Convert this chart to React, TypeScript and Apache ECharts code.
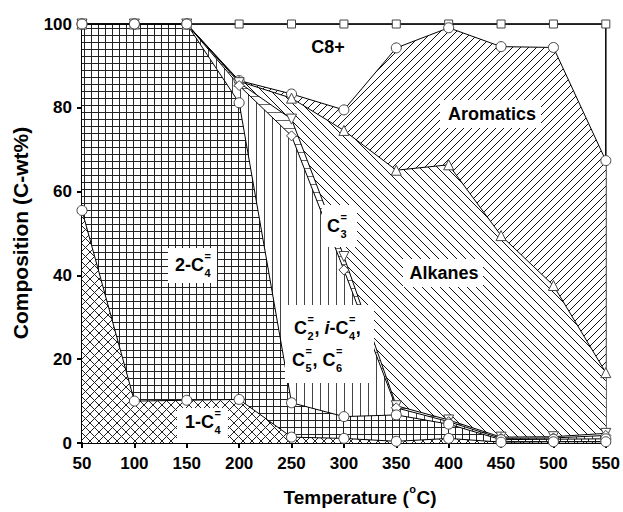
import React, { useEffect, useRef } from 'react';
import * as echarts from 'echarts';

// ---- data (cumulative boundaries, C-wt%) ----
const temperatures = [50, 100, 150, 200, 250, 300, 350, 400, 450, 500, 550];
const totalTop = [100, 100, 100, 100, 100, 100, 100, 100, 100, 100, 100];
const aromaticsTop = [100, 100, 100, 86.5, 83.3, 79.5, 94.3, 99.1, 94.6, 94.4, 67.4];
const alkanesTop = [100, 100, 100, 86.3, 82.3, 74.6, 65.1, 66.4, 49.5, 37.6, 16.8];
const c3Top = [100, 100, 100, 86.0, 77.3, 44.5, 8.9, 5.5, 1.4, 1.5, 2.3];
const lightOlefinsTop = [100, 100, 100, 85.3, 73.3, 41.3, 8.4, 5.1, 1.1, 1.2, 1.8];
const butene2Top = [100, 100, 100, 81.2, 9.6, 6.3, 6.7, 4.5, 0.8, 0.9, 1.0];
const butene1Top = [55.5, 10.0, 10.2, 10.4, 1.4, 1.1, 0.4, 1.1, 0.2, 0.3, 0.3];
const xTicks = { min: 50, max: 550, interval: 50 };
const yTicks = { min: 0, max: 100, interval: 20 };

const FONT = '"Liberation Sans", Arial, Helvetica, sans-serif';

function tile(size: number, color: string, draw: (ctx: CanvasRenderingContext2D, s: number) => void) {
  const c = document.createElement('canvas');
  c.width = size;
  c.height = size;
  const ctx = c.getContext('2d')!;
  ctx.fillStyle = '#fff';
  ctx.fillRect(0, 0, size, size);
  ctx.strokeStyle = color;
  ctx.lineWidth = 1;
  ctx.beginPath();
  draw(ctx, size);
  ctx.stroke();
  return { image: c, repeat: 'repeat', imageWidth: size, imageHeight: size };
}

function makePatterns() {
  const slash = tile(8, '#111', (ctx, s) => {
    for (const k of [-s, 0, s]) { ctx.moveTo(k, s); ctx.lineTo(k + s, 0); }
  });
  const backslash = tile(9, '#111', (ctx, s) => {
    for (const k of [-s, 0, s]) { ctx.moveTo(k, 0); ctx.lineTo(k + s, s); }
  });
  const horiz = tile(8, '#666', (ctx, s) => { ctx.moveTo(0, 0.5); ctx.lineTo(s, 0.5); });
  const vert = tile(8, '#444', (ctx, s) => { ctx.moveTo(0.5, 0); ctx.lineTo(0.5, s); });
  const grid = tile(7, '#222', (ctx, s) => {
    ctx.moveTo(0.5, 0); ctx.lineTo(0.5, s); ctx.moveTo(0, 0.5); ctx.lineTo(s, 0.5);
  });
  const cross = tile(9, '#222', (ctx, s) => {
    for (const k of [-s, 0, s]) { ctx.moveTo(k, 0); ctx.lineTo(k + s, s); ctx.moveTo(k, s); ctx.lineTo(k + s, 0); }
  });
  return { slash, backslash, horiz, vert, grid, cross };
}

let mctx: CanvasRenderingContext2D | null = null;
function tw(text: string, size: number, italic = false) {
  if (!mctx) mctx = document.createElement('canvas').getContext('2d');
  mctx!.font = `${italic ? 'italic ' : ''}bold ${size}px ${FONT}`;
  return mctx!.measureText(text).width;
}

type Tok = { t?: string; italic?: boolean; sub?: string; sup?: string };

function txt(text: string, x: number, y: number, size: number, italic = false, align = 'left', rotation = 0) {
  return {
    type: 'text', x, y, rotation, z: 101,
    style: {
      text, fill: '#000',
      font: `${italic ? 'italic ' : ''}bold ${size}px ${FONT}`,
      textAlign: align, textVerticalAlign: 'middle', align, verticalAlign: 'middle',
    },
  };
}

function formula(tokens: Tok[], x: number, y: number, size = 18, small = 11, center = false, subDy = 8, supDy = -9) {
  const widths = tokens.map((tk) =>
    tk.t !== undefined ? tw(tk.t, size, tk.italic) : Math.max(tk.sub ? tw(tk.sub, small) : 0, tk.sup ? tw(tk.sup, small) : 0) + 1
  );
  const total = widths.reduce((a, b) => a + b, 0);
  let cx = center ? x - total / 2 : x;
  const els: any[] = [];
  tokens.forEach((tk, i) => {
    if (tk.t !== undefined) {
      els.push(txt(tk.t, cx, y, size, tk.italic));
    } else {
      if (tk.sub) els.push(txt(tk.sub, cx + 0.5, y + subDy, small));
      if (tk.sup) els.push(txt(tk.sup, cx + 0.5, y + supDy, small));
    }
    cx += widths[i];
  });
  return els;
}

function box(x: number, y: number, w: number, h: number) {
  return { type: 'rect', z: 100, shape: { x, y, width: w, height: h }, style: { fill: '#fff' } };
}

export default function App() {
  const ref = useRef<HTMLDivElement>(null);
  useEffect(() => {
    if (!ref.current) return;
    const chart = echarts.init(ref.current, undefined, { renderer: 'svg' });
    const P = makePatterns();
    const pts = (arr: number[]) => temperatures.map((t, i) => [t, arr[i]]);

    const layers = [
      { name: 'Aromatics', data: aromaticsTop, fill: P.slash, symbol: 'circle', rot: 0 },
      { name: 'Alkanes', data: alkanesTop, fill: P.backslash, symbol: 'triangle', rot: 0 },
      { name: 'C3=', data: c3Top, fill: P.horiz, symbol: 'triangle', rot: 180 },
      { name: 'C2=, i-C4=, C5=, C6=', data: lightOlefinsTop, fill: P.vert, symbol: 'diamond', rot: 0 },
      { name: '2-C4=', data: butene2Top, fill: P.grid, symbol: 'circle', rot: 0 },
      { name: '1-C4=', data: butene1Top, fill: P.cross, symbol: 'circle', rot: 0 },
    ];

    const areaSeries = layers.map((l) => ({
      type: 'line', name: l.name + ' area', data: pts(l.data), showSymbol: false, silent: true,
      lineStyle: { width: 0 }, areaStyle: { color: l.fill, opacity: 1 }, z: 1,
    }));
    const lineSeries = [
      { name: 'C8+', data: totalTop, symbol: 'rect', rot: 0, size: 8 },
      ...layers.map((l) => ({ name: l.name, data: l.data, symbol: l.symbol, rot: l.rot, size: 10 })),
    ].map((l) => ({
      type: 'line', name: l.name + ' line', data: pts(l.data), symbol: l.symbol, symbolRotate: l.rot,
      symbolSize: l.size, showSymbol: true, z: 3,
      lineStyle: { color: '#000', width: 1 },
      itemStyle: { color: '#fff', borderColor: '#444', borderWidth: 1 },
    }));

    const graphics: any[] = [
      txt('C8+', 328, 47, 18, false, 'center'),
      box(440, 100, 101, 28),
      txt('Aromatics', 492, 114, 18, false, 'center'),
      box(403, 259, 80, 28),
      txt('Alkanes', 444, 273, 18, false, 'center'),
      box(322, 205, 35, 42),
      ...formula([{ t: 'C' }, { sub: '3', sup: '=' }], 327, 226),
      box(168, 248, 49, 35),
      ...formula([{ t: '2-C' }, { sub: '4', sup: '=' }], 175, 265),
      box(177, 408, 51, 35),
      ...formula([{ t: '1-C' }, { sub: '4', sup: '=' }], 185, 422),
      box(285, 305, 89, 78),
      ...formula([{ t: 'C' }, { sub: '2', sup: '=' }, { t: ', ' }, { t: 'i', italic: true }, { t: '-C' }, { sub: '4', sup: '=' }, { t: ',' }], 294, 328),
      ...formula([{ t: 'C' }, { sub: '5', sup: '=' }, { t: ', C' }, { sub: '6', sup: '=' }], 292, 360),
      ...formula([{ t: 'Temperature (' }, { sup: 'o' }, { t: 'C)' }], 360, 497, 19, 11, true, 8, -8),
      txt('Composition (C-wt%)', 20, 233, 21, false, 'center', Math.PI / 2),
    ];

    chart.setOption({
      animation: false,
      backgroundColor: '#fff',
      grid: { left: 82, right: 14, top: 24, bottom: 69, show: true, borderColor: '#000', borderWidth: 1.5, backgroundColor: 'transparent' },
      xAxis: {
        type: 'value', ...xTicks,
        axisLine: { show: true, onZero: false, lineStyle: { color: '#000', width: 2 } },
        axisTick: { show: true, length: 5, lineStyle: { color: '#000', width: 2 } },
        axisLabel: { color: '#000', fontSize: 17, fontWeight: 'bold', fontFamily: FONT, margin: 12 },
        splitLine: { show: false },
      },
      yAxis: {
        type: 'value', ...yTicks,
        axisLine: { show: true, lineStyle: { color: '#000', width: 2 } },
        axisTick: { show: true, length: 5, lineStyle: { color: '#000', width: 2 } },
        axisLabel: { color: '#000', fontSize: 17, fontWeight: 'bold', fontFamily: FONT, margin: 10 },
        splitLine: { show: false },
      },
      series: [...areaSeries, ...lineSeries],
      graphic: { elements: graphics },
    });
    return () => chart.dispose();
  }, []);
  return <div ref={ref} style={{ position: 'fixed', left: 0, top: 0, width: 623, height: 512 }} />;
}
